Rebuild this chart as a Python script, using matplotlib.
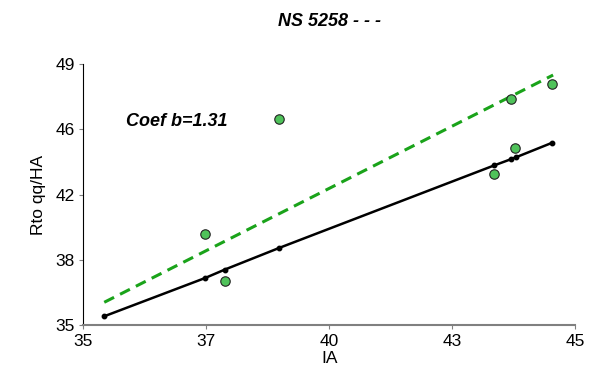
import matplotlib
matplotlib.use("Agg")
import matplotlib.pyplot as plt
import numpy as np

plt.rcParams['font.family'] = ['Liberation Sans', 'DejaVu Sans']

# environment index (IA) and values
ia = [35.34, 37.43, 37.84, 38.97, 43.42, 43.77, 43.88, 44.62]
mean_line = [35.39, 37.47, 37.93, 39.11, 43.59, 43.93, 44.04, 44.82]

obs_x = [37.43, 37.84, 38.97, 43.42, 43.77, 43.85, 44.62]
obs_y = [39.85, 37.33, 46.09, 43.10, 47.18, 44.51, 48.01]

fit_x = [35.34, 44.64]
fit_y = [36.15, 48.50]

xlim = (34.9, 45.1)
ylim = (34.9, 49.1)
xticklabels = ["35", "37", "40", "43", "45"]
yticklabels = ["35", "38", "42", "46", "49"]

title = "NS 5258 - - -"
coef_text = "Coef b=1.31"

fig = plt.figure(figsize=(5.9, 3.74), dpi=100)
ax = fig.add_axes([83 / 590, 1 - 325.3 / 374, (575.3 - 83) / 590, (325.3 - 64) / 374])

ax.plot(fit_x, fit_y, color="#1aa31a", lw=2.2, ls=(0, (3.6, 2.2)), zorder=2)
ax.plot(ia, mean_line, color="black", lw=1.8, marker="o", ms=3.2, zorder=3)
ax.plot(obs_x, obs_y, ls="none", marker="o", ms=6.8, mfc="#4fc25a",
        mec="#222222", mew=0.8, zorder=4)

ax.set_xlim(*xlim)
ax.set_ylim(*ylim)
ax.set_xticks(np.linspace(xlim[0], xlim[1], 5))
ax.set_xticklabels(xticklabels)
ax.set_yticks(np.linspace(ylim[0], ylim[1], 5))
ax.set_yticklabels(yticklabels)

for s in ["top", "right"]:
    ax.spines[s].set_visible(False)
ax.spines["left"].set_color("black")
ax.spines["bottom"].set_color("#808080")
ax.spines["bottom"].set_linewidth(1.5)
ax.tick_params(axis="both", colors="#808080", labelcolor="black",
               labelsize=12.5, length=3, width=0.8, pad=3)

ax.set_xlabel("IA", fontsize=12.5, labelpad=2)
ax.set_ylabel("Rto qq/HA", fontsize=12.5, labelpad=7)
ax.set_title(title, fontsize=13, fontweight="bold", fontstyle="italic", pad=27)
ax.text(35.8, 46.0, coef_text, fontsize=13, fontweight="bold",
        fontstyle="italic", va="center", ha="left")

fig.savefig("out.png", dpi=100)
